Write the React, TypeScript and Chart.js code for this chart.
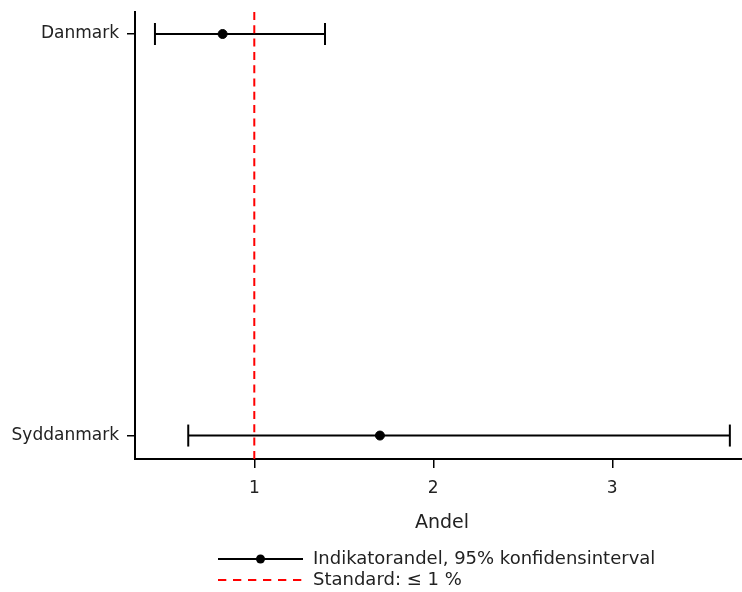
import React, { useEffect, useRef } from 'react';
import { Chart, registerables } from 'chart.js';

Chart.register(...registerables);

const categories = ['Danmark', 'Syddanmark'];
const estimates = [0.823, 1.702];
const lowerCI = [0.445, 0.631];
const upperCI = [1.395, 3.657];
const standardValue = 1;
const xTickValues = [1, 2, 3];
const xMin = 0.3335;
const xMax = 3.764;
const yMin = -0.0548;
const yMax = 1.0584;
const xTitle = 'Andel';
const legendLabels = ['Indikatorandel, 95% konfidensinterval', 'Standard: \u2264 1 %'];

const FONT = "'DejaVu Sans', sans-serif";
const TEXT = '#222';

const legendPlugin = {
  id: 'customLegend',
  afterDraw(chart: any) {
    const ctx = chart.ctx as CanvasRenderingContext2D;
    const area = chart.chartArea;
    ctx.save();
    ctx.font = `18px ${FONT}`;
    const handleLen = 85;
    const gap = 10;
    const x0 = area.left + 83;
    const rows = [chart.height - 33, chart.height - 12];
    ctx.strokeStyle = '#000';
    ctx.lineWidth = 2;
    ctx.setLineDash([]);
    ctx.beginPath();
    ctx.moveTo(x0, rows[0]);
    ctx.lineTo(x0 + handleLen, rows[0]);
    ctx.stroke();
    ctx.fillStyle = '#000';
    ctx.beginPath();
    ctx.arc(x0 + handleLen / 2, rows[0], 4.5, 0, Math.PI * 2);
    ctx.fill();
    ctx.strokeStyle = 'red';
    ctx.setLineDash([8.3, 6.7]);
    ctx.beginPath();
    ctx.moveTo(x0, rows[1]);
    ctx.lineTo(x0 + handleLen, rows[1]);
    ctx.stroke();
    ctx.setLineDash([]);
    ctx.fillStyle = TEXT;
    ctx.textAlign = 'left';
    ctx.textBaseline = 'middle';
    legendLabels.forEach((t, i) => ctx.fillText(t, x0 + handleLen + gap, rows[i]));
    ctx.restore();
  },
};

const zeroPad = (s: any) => {
  s.paddingTop = 0;
  s.paddingBottom = 0;
  s.paddingLeft = 0;
  s.paddingRight = 0;
};

export default function App() {
  const ref = useRef<HTMLCanvasElement>(null);

  useEffect(() => {
    if (!ref.current) return;
    const datasets: any[] = [
      {
        label: 'Standard',
        data: [
          { x: standardValue, y: yMin },
          { x: standardValue, y: yMax },
        ],
        showLine: true,
        borderColor: 'red',
        borderWidth: 2,
        borderDash: [8, 5.3],
        pointRadius: 0,
      },
      {
        label: 'Estimate',
        data: categories.map((_, i) => ({ x: estimates[i], y: i })),
        pointRadius: 4.5,
        pointHoverRadius: 4.5,
        backgroundColor: '#000',
        borderColor: '#000',
        showLine: false,
      },
      ...categories.map((c, i) => ({
        label: c,
        data: [
          { x: lowerCI[i], y: i },
          { x: upperCI[i], y: i },
        ],
        showLine: true,
        borderColor: '#000',
        borderWidth: 2,
        pointStyle: 'line',
        rotation: 90,
        pointRadius: 11,
        pointHoverRadius: 11,
        pointBorderWidth: 2,
        pointBorderColor: '#000',
        backgroundColor: '#000',
      })),
    ];

    const chart = new Chart(ref.current, {
      type: 'scatter',
      data: { datasets },
      plugins: [legendPlugin],
      options: {
        responsive: false,
        animation: false,
        devicePixelRatio: 1,
        layout: { autoPadding: false, padding: { left: 0, right: 0, top: 12, bottom: 58 } },
        plugins: { legend: { display: false }, tooltip: { enabled: false } },
        scales: {
          x: {
            type: 'linear',
            min: xMin,
            max: xMax,
            afterBuildTicks: (s: any) => {
              s.ticks = xTickValues.map((v) => ({ value: v }));
            },
            afterFit: (s: any) => {
              s.height = 75;
              zeroPad(s);
            },
            grid: {
              display: true,
              drawOnChartArea: false,
              drawTicks: true,
              tickLength: 9,
              color: '#000',
              lineWidth: 1.5,
            },
            border: { display: true, color: '#000', width: 2 },
            ticks: {
              font: { family: FONT, size: 17 },
              color: TEXT,
              padding: 10,
              maxRotation: 0,
              autoSkip: false,
              callback: (v: any) => String(v),
            },
            title: {
              display: true,
              text: xTitle,
              font: { family: FONT, size: 19 },
              color: TEXT,
              padding: { top: 0, bottom: 0 },
            },
          },
          y: {
            type: 'linear',
            reverse: true,
            min: yMin,
            max: yMax,
            afterBuildTicks: (s: any) => {
              s.ticks = categories.map((_, i) => ({ value: i }));
            },
            afterFit: (s: any) => {
              s.width = 135;
              zeroPad(s);
            },
            grid: {
              display: true,
              drawOnChartArea: false,
              drawTicks: true,
              tickLength: 8,
              color: '#000',
              lineWidth: 1.5,
            },
            border: { display: true, color: '#000', width: 2 },
            ticks: {
              font: { family: FONT, size: 17 },
              color: TEXT,
              padding: 8,
              autoSkip: false,
              callback: (v: any) => categories[v] ?? '',
            },
          },
        },
      },
    });
    return () => chart.destroy();
  }, []);

  return (
    <div
      style={{
        position: 'absolute',
        left: 0,
        top: 0,
        width: 742,
        height: 592,
        overflow: 'hidden',
        background: '#fff',
      }}
    >
      <canvas ref={ref} width={749} height={592} style={{ display: 'block' }} />
    </div>
  );
}
